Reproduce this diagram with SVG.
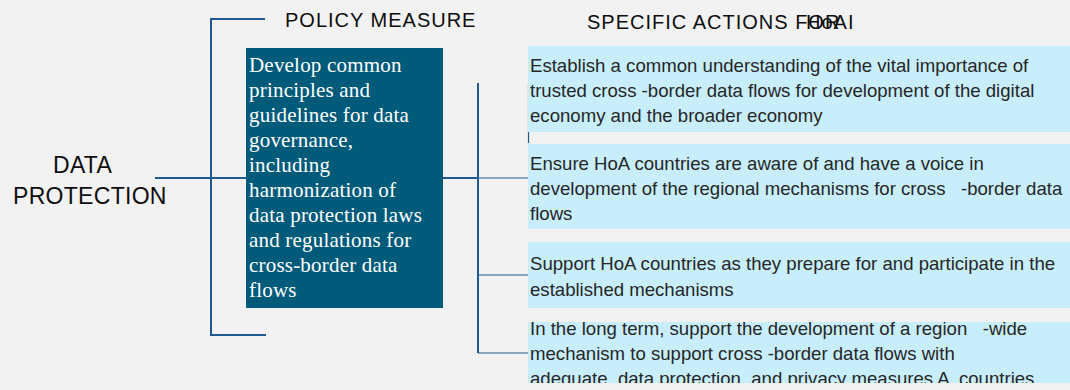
<svg xmlns="http://www.w3.org/2000/svg" width="1070" height="390" viewBox="0 0 1070 390">
  <style>
    .hdr { font-family: "Liberation Sans", Arial, sans-serif; font-size: 20px; fill: #0d0d0d; letter-spacing: 1px; }
    .root { font-family: "Liberation Sans", Arial, sans-serif; font-size: 23px; fill: #0d0d0d; letter-spacing: 0.3px; }
    .pol { font-family: "Liberation Serif", "Times New Roman", serif; font-size: 21px; fill: #ffffff; letter-spacing: 0.2px; }
    .act { font-family: "Liberation Sans", Arial, sans-serif; font-size: 18.6px; fill: #262626; white-space: pre; }
    .abox { fill: #c8eefc; }
    .ln { stroke: #1f5a8e; stroke-width: 2; fill: none; }
    .thin { stroke: #1f5a8e; stroke-width: 1.2; fill: none; }
  </style>
  <defs>
    <clipPath id="clip4"><rect x="528" y="322" width="542" height="61"/></clipPath>
  </defs>
  <rect x="0" y="0" width="1070" height="390" fill="#f2f2f2"/>

  <g id="connectors">
    <path class="ln" d="M265 19 H211 V335 H266"/>
    <path class="ln" d="M155 178 H246"/>
    <path class="ln" d="M443 178 H478"/>
    <path class="ln" d="M478 83 V353"/>
    <path class="thin" d="M478 178 H528"/>
    <path class="thin" d="M478 275 H528"/>
    <path class="thin" d="M478 353 H528"/>
    <path class="thin" d="M528.5 83 V143"/>
  </g>

  <g id="header-policy">
    <text class="hdr" x="285" y="27">POLICY MEASURE</text>
  </g>
  <g id="header-actions">
    <text class="hdr" x="587" y="29">SPECIFIC ACTIONS FOR</text>
    <text class="hdr" x="806" y="29">HoAI</text>
  </g>

  <g id="root-data-protection">
    <text class="root" x="53" y="173">DATA</text>
    <text class="root" x="13" y="204">PROTECTION</text>
  </g>

  <g id="policy-measure">
    <rect x="246" y="48" width="197" height="260" fill="#005a7a"/>
    <text class="pol" x="249" y="72">Develop common</text>
    <text class="pol" x="249" y="97">principles and</text>
    <text class="pol" x="249" y="122">guidelines for data</text>
    <text class="pol" x="249" y="147">governance,</text>
    <text class="pol" x="249" y="172">including</text>
    <text class="pol" x="249" y="197">harmonization of</text>
    <text class="pol" x="249" y="222">data protection laws</text>
    <text class="pol" x="249" y="247">and regulations for</text>
    <text class="pol" x="249" y="272">cross-border data</text>
    <text class="pol" x="249" y="297">flows</text>
  </g>

  <g id="action-1">
    <rect class="abox" x="528" y="46" width="542" height="86"/>
    <text class="act" x="530" y="72">Establish a common understanding of the vital importance of</text>
    <text class="act" x="530" y="97">trusted cross -border data flows for development of the digital</text>
    <text class="act" x="530" y="122">economy and the broader economy</text>
  </g>

  <g id="action-2">
    <rect class="abox" x="528" y="144" width="542" height="85"/>
    <text class="act" x="530" y="170">Ensure HoA countries are aware of and have a voice in</text>
    <text class="act" x="530" y="195">development of the regional mechanisms for cross   -border data</text>
    <text class="act" x="530" y="220">flows</text>
  </g>

  <g id="action-3">
    <rect class="abox" x="528" y="242" width="542" height="66"/>
    <text class="act" x="530" y="270">Support HoA countries as they prepare for and participate in the</text>
    <text class="act" x="530" y="296">established mechanisms</text>
  </g>

  <g id="action-4">
    <rect class="abox" x="528" y="322" width="542" height="61"/>
    <g clip-path="url(#clip4)">
      <text class="act" x="530" y="335">In the long term, support the development of a region   -wide</text>
      <text class="act" x="530" y="360">mechanism to support cross -border data flows with</text>
      <text class="act" x="530" y="385">adequate  data protection  and privacy measures A  countries</text>
    </g>
  </g>
</svg>
